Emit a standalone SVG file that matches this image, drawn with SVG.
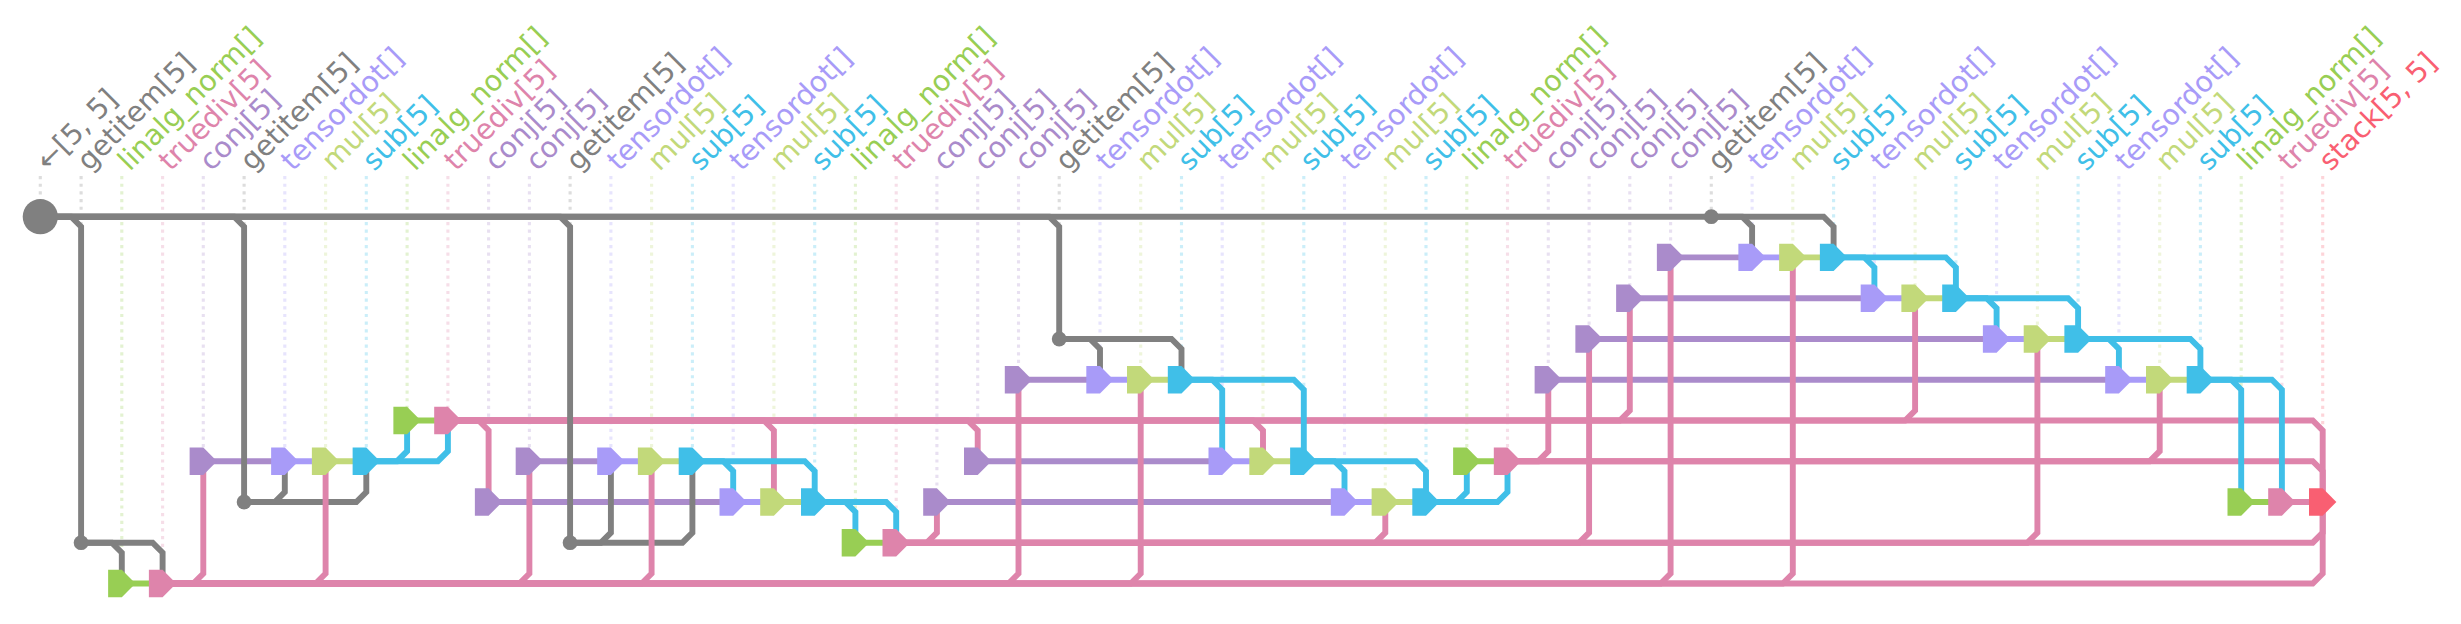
<svg xmlns="http://www.w3.org/2000/svg" width="2461" height="624" viewBox="0 0 2461 624">
<style>
text{font-family:"DejaVu Sans",sans-serif;font-size:28.5px}
.d{fill:none;stroke-width:3.1;stroke-dasharray:3.2 4.46;opacity:.27}
.w{fill:none;stroke-width:5.9}
.g{stroke:#808080}.lg{stroke:#98ce54}.pk{stroke:#de84ab}.cj{stroke:#aa8bcb}.td{stroke:#a89bf8}.ml{stroke:#c2d97a}.sb{stroke:#40bfe8}.st{stroke:#f95f72}
.Fg{fill:#808080}.Flg{fill:#98ce54}.Fpk{fill:#de84ab}.Fcj{fill:#aa8bcb}.Ftd{fill:#a89bf8}.Fml{fill:#c2d97a}.Fsb{fill:#40bfe8}.Fst{fill:#f95f72}
</style>
<defs><path id="n" d="M-13.7-13.7H0L13.7 0 0 13.7H-13.7Z"/></defs>
<g id="labels">
<text transform="translate(48 172) rotate(-45)" class="Fg">←[5, 5]</text>
<text transform="translate(89 172) rotate(-45)" class="Fg">getitem[5]</text>
<text transform="translate(129.8 172) rotate(-45)" class="Flg">linalg_norm[]</text>
<text transform="translate(170.5 172) rotate(-45)" class="Fpk">truediv[5]</text>
<text transform="translate(211.3 172) rotate(-45)" class="Fcj">conj[5]</text>
<text transform="translate(252.1 172) rotate(-45)" class="Fg">getitem[5]</text>
<text transform="translate(292.8 172) rotate(-45)" class="Ftd">tensordot[]</text>
<text transform="translate(333.6 172) rotate(-45)" class="Fml">mul[5]</text>
<text transform="translate(374.3 172) rotate(-45)" class="Fsb">sub[5]</text>
<text transform="translate(415.1 172) rotate(-45)" class="Flg">linalg_norm[]</text>
<text transform="translate(455.9 172) rotate(-45)" class="Fpk">truediv[5]</text>
<text transform="translate(496.6 172) rotate(-45)" class="Fcj">conj[5]</text>
<text transform="translate(537.4 172) rotate(-45)" class="Fcj">conj[5]</text>
<text transform="translate(578.1 172) rotate(-45)" class="Fg">getitem[5]</text>
<text transform="translate(618.9 172) rotate(-45)" class="Ftd">tensordot[]</text>
<text transform="translate(659.6 172) rotate(-45)" class="Fml">mul[5]</text>
<text transform="translate(700.4 172) rotate(-45)" class="Fsb">sub[5]</text>
<text transform="translate(741.2 172) rotate(-45)" class="Ftd">tensordot[]</text>
<text transform="translate(781.9 172) rotate(-45)" class="Fml">mul[5]</text>
<text transform="translate(822.7 172) rotate(-45)" class="Fsb">sub[5]</text>
<text transform="translate(863.4 172) rotate(-45)" class="Flg">linalg_norm[]</text>
<text transform="translate(904.2 172) rotate(-45)" class="Fpk">truediv[5]</text>
<text transform="translate(945 172) rotate(-45)" class="Fcj">conj[5]</text>
<text transform="translate(985.7 172) rotate(-45)" class="Fcj">conj[5]</text>
<text transform="translate(1026.5 172) rotate(-45)" class="Fcj">conj[5]</text>
<text transform="translate(1067.2 172) rotate(-45)" class="Fg">getitem[5]</text>
<text transform="translate(1108 172) rotate(-45)" class="Ftd">tensordot[]</text>
<text transform="translate(1148.8 172) rotate(-45)" class="Fml">mul[5]</text>
<text transform="translate(1189.5 172) rotate(-45)" class="Fsb">sub[5]</text>
<text transform="translate(1230.3 172) rotate(-45)" class="Ftd">tensordot[]</text>
<text transform="translate(1271 172) rotate(-45)" class="Fml">mul[5]</text>
<text transform="translate(1311.8 172) rotate(-45)" class="Fsb">sub[5]</text>
<text transform="translate(1352.5 172) rotate(-45)" class="Ftd">tensordot[]</text>
<text transform="translate(1393.3 172) rotate(-45)" class="Fml">mul[5]</text>
<text transform="translate(1434.1 172) rotate(-45)" class="Fsb">sub[5]</text>
<text transform="translate(1474.8 172) rotate(-45)" class="Flg">linalg_norm[]</text>
<text transform="translate(1515.6 172) rotate(-45)" class="Fpk">truediv[5]</text>
<text transform="translate(1556.3 172) rotate(-45)" class="Fcj">conj[5]</text>
<text transform="translate(1597.1 172) rotate(-45)" class="Fcj">conj[5]</text>
<text transform="translate(1637.9 172) rotate(-45)" class="Fcj">conj[5]</text>
<text transform="translate(1678.6 172) rotate(-45)" class="Fcj">conj[5]</text>
<text transform="translate(1719.4 172) rotate(-45)" class="Fg">getitem[5]</text>
<text transform="translate(1760.1 172) rotate(-45)" class="Ftd">tensordot[]</text>
<text transform="translate(1800.9 172) rotate(-45)" class="Fml">mul[5]</text>
<text transform="translate(1841.6 172) rotate(-45)" class="Fsb">sub[5]</text>
<text transform="translate(1882.4 172) rotate(-45)" class="Ftd">tensordot[]</text>
<text transform="translate(1923.2 172) rotate(-45)" class="Fml">mul[5]</text>
<text transform="translate(1963.9 172) rotate(-45)" class="Fsb">sub[5]</text>
<text transform="translate(2004.7 172) rotate(-45)" class="Ftd">tensordot[]</text>
<text transform="translate(2045.4 172) rotate(-45)" class="Fml">mul[5]</text>
<text transform="translate(2086.2 172) rotate(-45)" class="Fsb">sub[5]</text>
<text transform="translate(2127 172) rotate(-45)" class="Ftd">tensordot[]</text>
<text transform="translate(2167.7 172) rotate(-45)" class="Fml">mul[5]</text>
<text transform="translate(2208.5 172) rotate(-45)" class="Fsb">sub[5]</text>
<text transform="translate(2249.2 172) rotate(-45)" class="Flg">linalg_norm[]</text>
<text transform="translate(2290 172) rotate(-45)" class="Fpk">truediv[5]</text>
<text transform="translate(2330.8 172) rotate(-45)" class="Fst">stack[5, 5]</text>
</g>
<g id="guides">
<path class="d g" d="M40.3 176V216.7"/><path class="d g" d="M81.1 176V542.7"/><path class="d lg" d="M121.8 176V583.5"/><path class="d pk" d="M162.6 176V583.5"/><path class="d cj" d="M203.3 176V461.2"/><path class="d g" d="M244.1 176V502"/><path class="d td" d="M284.8 176V461.2"/><path class="d ml" d="M325.6 176V461.2"/><path class="d sb" d="M366.3 176V461.2"/><path class="d lg" d="M407.1 176V420.5"/><path class="d pk" d="M447.9 176V420.5"/><path class="d cj" d="M488.6 176V502"/><path class="d cj" d="M529.4 176V461.2"/><path class="d g" d="M570.1 176V542.7"/><path class="d td" d="M610.9 176V461.2"/><path class="d ml" d="M651.6 176V461.2"/><path class="d sb" d="M692.4 176V461.2"/><path class="d td" d="M733.2 176V502"/><path class="d ml" d="M773.9 176V502"/><path class="d sb" d="M814.7 176V502"/><path class="d lg" d="M855.4 176V542.7"/><path class="d pk" d="M896.2 176V542.7"/><path class="d cj" d="M936.9 176V502"/><path class="d cj" d="M977.7 176V461.2"/><path class="d cj" d="M1018.5 176V379.7"/><path class="d g" d="M1059.2 176V339"/><path class="d td" d="M1100 176V379.7"/><path class="d ml" d="M1140.7 176V379.7"/><path class="d sb" d="M1181.5 176V379.7"/><path class="d td" d="M1222.2 176V461.2"/><path class="d ml" d="M1263 176V461.2"/><path class="d sb" d="M1303.8 176V461.2"/><path class="d td" d="M1344.5 176V502"/><path class="d ml" d="M1385.3 176V502"/><path class="d sb" d="M1426 176V502"/><path class="d lg" d="M1466.8 176V461.2"/><path class="d pk" d="M1507.5 176V461.2"/><path class="d cj" d="M1548.3 176V379.7"/><path class="d cj" d="M1589.1 176V339"/><path class="d cj" d="M1629.8 176V298.2"/><path class="d cj" d="M1670.6 176V257.4"/><path class="d g" d="M1711.3 176V216.7"/><path class="d td" d="M1752.1 176V257.4"/><path class="d ml" d="M1792.8 176V257.4"/><path class="d sb" d="M1833.6 176V257.4"/><path class="d td" d="M1874.4 176V298.2"/><path class="d ml" d="M1915.1 176V298.2"/><path class="d sb" d="M1955.9 176V298.2"/><path class="d td" d="M1996.6 176V339"/><path class="d ml" d="M2037.4 176V339"/><path class="d sb" d="M2078.1 176V339"/><path class="d td" d="M2118.9 176V379.7"/><path class="d ml" d="M2159.7 176V379.7"/><path class="d sb" d="M2200.4 176V379.7"/><path class="d lg" d="M2241.2 176V502"/><path class="d pk" d="M2281.9 176V502"/><path class="d st" d="M2322.7 176V502"/>
</g>
<g id="connectors">
<path class="w cj" d="M203.3 461.2H284.8"/>
<path class="w cj" d="M529.4 461.2H610.9"/>
<path class="w cj" d="M488.6 502H733.2"/>
<path class="w cj" d="M1018.5 379.7H1100"/>
<path class="w cj" d="M977.7 461.2H1222.2"/>
<path class="w cj" d="M936.9 502H1344.5"/>
<path class="w cj" d="M1670.6 257.4H1752.1"/>
<path class="w cj" d="M1629.8 298.2H1874.4"/>
<path class="w cj" d="M1589.1 339H1996.6"/>
<path class="w cj" d="M1548.3 379.7H2118.9"/>
<path class="w g" d="M81.1 542.7H111.8L121.8 552.7V583.5"/>
<path class="w g" d="M81.1 542.7H152.6L162.6 552.7V583.5"/>
<path class="w g" d="M244.1 502H274.8L284.8 492V461.2"/>
<path class="w g" d="M244.1 502H356.3L366.3 492V461.2"/>
<path class="w g" d="M570.1 542.7H600.9L610.9 532.7V461.2"/>
<path class="w g" d="M570.1 542.7H682.4L692.4 532.7V461.2"/>
<path class="w g" d="M1059.2 339H1090L1100 349V379.7"/>
<path class="w g" d="M1059.2 339H1171.5L1181.5 349V379.7"/>
<path class="w g" d="M1711.3 216.7H1742.1L1752.1 226.7V257.4"/>
<path class="w g" d="M1711.3 216.7H1823.6L1833.6 226.7V257.4"/>
<path class="w lg" d="M121.8 583.5H162.6"/>
<path class="w lg" d="M407.1 420.5H447.9"/>
<path class="w lg" d="M855.4 542.7H896.2"/>
<path class="w lg" d="M1466.8 461.2H1507.5"/>
<path class="w lg" d="M2241.2 502H2281.9"/>
<path class="w td" d="M284.8 461.2H325.6"/>
<path class="w td" d="M610.9 461.2H651.6"/>
<path class="w td" d="M733.2 502H773.9"/>
<path class="w td" d="M1100 379.7H1140.7"/>
<path class="w td" d="M1222.2 461.2H1263"/>
<path class="w td" d="M1344.5 502H1385.3"/>
<path class="w td" d="M1752.1 257.4H1792.8"/>
<path class="w td" d="M1874.4 298.2H1915.1"/>
<path class="w td" d="M1996.6 339H2037.4"/>
<path class="w td" d="M2118.9 379.7H2159.7"/>
<path class="w ml" d="M325.6 461.2H366.3"/>
<path class="w ml" d="M651.6 461.2H692.4"/>
<path class="w ml" d="M773.9 502H814.7"/>
<path class="w ml" d="M1140.7 379.7H1181.5"/>
<path class="w ml" d="M1263 461.2H1303.8"/>
<path class="w ml" d="M1385.3 502H1426"/>
<path class="w ml" d="M1792.8 257.4H1833.6"/>
<path class="w ml" d="M1915.1 298.2H1955.9"/>
<path class="w ml" d="M2037.4 339H2078.1"/>
<path class="w ml" d="M2159.7 379.7H2200.4"/>
<path class="w pk" d="M162.6 583.5H193.3L203.3 573.5V461.2"/>
<path class="w pk" d="M162.6 583.5H315.6L325.6 573.5V461.2"/>
<path class="w pk" d="M447.9 420.5H478.6L488.6 430.5V502"/>
<path class="w pk" d="M162.6 583.5H519.4L529.4 573.5V461.2"/>
<path class="w pk" d="M162.6 583.5H641.6L651.6 573.5V461.2"/>
<path class="w pk" d="M447.9 420.5H763.9L773.9 430.5V502"/>
<path class="w pk" d="M896.2 542.7H926.9L936.9 532.7V502"/>
<path class="w pk" d="M447.9 420.5H967.7L977.7 430.5V461.2"/>
<path class="w pk" d="M162.6 583.5H1008.5L1018.5 573.5V379.7"/>
<path class="w pk" d="M162.6 583.5H1130.7L1140.7 573.5V379.7"/>
<path class="w pk" d="M447.9 420.5H1253L1263 430.5V461.2"/>
<path class="w pk" d="M896.2 542.7H1375.3L1385.3 532.7V502"/>
<path class="w pk" d="M1507.5 461.2H1538.3L1548.3 451.2V379.7"/>
<path class="w pk" d="M896.2 542.7H1579.1L1589.1 532.7V339"/>
<path class="w pk" d="M447.9 420.5H1619.8L1629.8 410.5V298.2"/>
<path class="w pk" d="M162.6 583.5H1660.6L1670.6 573.5V257.4"/>
<path class="w pk" d="M162.6 583.5H1782.8L1792.8 573.5V257.4"/>
<path class="w pk" d="M447.9 420.5H1905.1L1915.1 410.5V298.2"/>
<path class="w pk" d="M896.2 542.7H2027.4L2037.4 532.7V339"/>
<path class="w pk" d="M1507.5 461.2H2149.7L2159.7 451.2V379.7"/>
<path class="w pk" d="M2281.9 502H2322.7"/>
<path class="w pk" d="M447.9 420.5H2312.7L2322.7 430.5V502"/>
<path class="w pk" d="M1507.5 461.2H2312.7L2322.7 471.2V502"/>
<path class="w pk" d="M896.2 542.7H2312.7L2322.7 532.7V502"/>
<path class="w pk" d="M162.6 583.5H2312.7L2322.7 573.5V502"/>
<path class="w g" d="M40.3 216.7H1711.3"/>
<path class="w g" d="M40.3 216.7H71.1L81.1 226.7V542.7"/>
<path class="w g" d="M40.3 216.7H234.1L244.1 226.7V502"/>
<path class="w g" d="M40.3 216.7H560.1L570.1 226.7V542.7"/>
<path class="w g" d="M40.3 216.7H1049.2L1059.2 226.7V339"/>
<path class="w sb" d="M366.3 461.2H397.1L407.1 451.2V420.5"/>
<path class="w sb" d="M366.3 461.2H437.9L447.9 451.2V420.5"/>
<path class="w sb" d="M692.4 461.2H723.2L733.2 471.2V502"/>
<path class="w sb" d="M692.4 461.2H804.7L814.7 471.2V502"/>
<path class="w sb" d="M814.7 502H845.4L855.4 512V542.7"/>
<path class="w sb" d="M814.7 502H886.2L896.2 512V542.7"/>
<path class="w sb" d="M1181.5 379.7H1212.2L1222.2 389.7V461.2"/>
<path class="w sb" d="M1181.5 379.7H1293.8L1303.8 389.7V461.2"/>
<path class="w sb" d="M1303.8 461.2H1334.5L1344.5 471.2V502"/>
<path class="w sb" d="M1303.8 461.2H1416L1426 471.2V502"/>
<path class="w sb" d="M1426 502H1456.8L1466.8 492V461.2"/>
<path class="w sb" d="M1426 502H1497.5L1507.5 492V461.2"/>
<path class="w sb" d="M1833.6 257.4H1864.4L1874.4 267.4V298.2"/>
<path class="w sb" d="M1833.6 257.4H1945.9L1955.9 267.4V298.2"/>
<path class="w sb" d="M1955.9 298.2H1986.6L1996.6 308.2V339"/>
<path class="w sb" d="M1955.9 298.2H2068.1L2078.1 308.2V339"/>
<path class="w sb" d="M2078.1 339H2108.9L2118.9 349V379.7"/>
<path class="w sb" d="M2078.1 339H2190.4L2200.4 349V379.7"/>
<path class="w sb" d="M2200.4 379.7H2231.2L2241.2 389.7V502"/>
<path class="w sb" d="M2200.4 379.7H2271.9L2281.9 389.7V502"/>
</g>
<g id="nodes">
<circle id="n0" cx="40.3" cy="216.7" r="17.6" class="Fg"/>
<circle id="n1" cx="81.1" cy="542.7" r="7.4" class="Fg"/>
<use id="n2" href="#n" x="121.8" y="583.5" class="Flg"/>
<use id="n3" href="#n" x="162.6" y="583.5" class="Fpk"/>
<use id="n4" href="#n" x="203.3" y="461.2" class="Fcj"/>
<circle id="n5" cx="244.1" cy="502" r="7.4" class="Fg"/>
<use id="n6" href="#n" x="284.8" y="461.2" class="Ftd"/>
<use id="n7" href="#n" x="325.6" y="461.2" class="Fml"/>
<use id="n8" href="#n" x="366.3" y="461.2" class="Fsb"/>
<use id="n9" href="#n" x="407.1" y="420.5" class="Flg"/>
<use id="n10" href="#n" x="447.9" y="420.5" class="Fpk"/>
<use id="n11" href="#n" x="488.6" y="502" class="Fcj"/>
<use id="n12" href="#n" x="529.4" y="461.2" class="Fcj"/>
<circle id="n13" cx="570.1" cy="542.7" r="7.4" class="Fg"/>
<use id="n14" href="#n" x="610.9" y="461.2" class="Ftd"/>
<use id="n15" href="#n" x="651.6" y="461.2" class="Fml"/>
<use id="n16" href="#n" x="692.4" y="461.2" class="Fsb"/>
<use id="n17" href="#n" x="733.2" y="502" class="Ftd"/>
<use id="n18" href="#n" x="773.9" y="502" class="Fml"/>
<use id="n19" href="#n" x="814.7" y="502" class="Fsb"/>
<use id="n20" href="#n" x="855.4" y="542.7" class="Flg"/>
<use id="n21" href="#n" x="896.2" y="542.7" class="Fpk"/>
<use id="n22" href="#n" x="936.9" y="502" class="Fcj"/>
<use id="n23" href="#n" x="977.7" y="461.2" class="Fcj"/>
<use id="n24" href="#n" x="1018.5" y="379.7" class="Fcj"/>
<circle id="n25" cx="1059.2" cy="339" r="7.4" class="Fg"/>
<use id="n26" href="#n" x="1100" y="379.7" class="Ftd"/>
<use id="n27" href="#n" x="1140.7" y="379.7" class="Fml"/>
<use id="n28" href="#n" x="1181.5" y="379.7" class="Fsb"/>
<use id="n29" href="#n" x="1222.2" y="461.2" class="Ftd"/>
<use id="n30" href="#n" x="1263" y="461.2" class="Fml"/>
<use id="n31" href="#n" x="1303.8" y="461.2" class="Fsb"/>
<use id="n32" href="#n" x="1344.5" y="502" class="Ftd"/>
<use id="n33" href="#n" x="1385.3" y="502" class="Fml"/>
<use id="n34" href="#n" x="1426" y="502" class="Fsb"/>
<use id="n35" href="#n" x="1466.8" y="461.2" class="Flg"/>
<use id="n36" href="#n" x="1507.5" y="461.2" class="Fpk"/>
<use id="n37" href="#n" x="1548.3" y="379.7" class="Fcj"/>
<use id="n38" href="#n" x="1589.1" y="339" class="Fcj"/>
<use id="n39" href="#n" x="1629.8" y="298.2" class="Fcj"/>
<use id="n40" href="#n" x="1670.6" y="257.4" class="Fcj"/>
<circle id="n41" cx="1711.3" cy="216.7" r="7.4" class="Fg"/>
<use id="n42" href="#n" x="1752.1" y="257.4" class="Ftd"/>
<use id="n43" href="#n" x="1792.8" y="257.4" class="Fml"/>
<use id="n44" href="#n" x="1833.6" y="257.4" class="Fsb"/>
<use id="n45" href="#n" x="1874.4" y="298.2" class="Ftd"/>
<use id="n46" href="#n" x="1915.1" y="298.2" class="Fml"/>
<use id="n47" href="#n" x="1955.9" y="298.2" class="Fsb"/>
<use id="n48" href="#n" x="1996.6" y="339" class="Ftd"/>
<use id="n49" href="#n" x="2037.4" y="339" class="Fml"/>
<use id="n50" href="#n" x="2078.1" y="339" class="Fsb"/>
<use id="n51" href="#n" x="2118.9" y="379.7" class="Ftd"/>
<use id="n52" href="#n" x="2159.7" y="379.7" class="Fml"/>
<use id="n53" href="#n" x="2200.4" y="379.7" class="Fsb"/>
<use id="n54" href="#n" x="2241.2" y="502" class="Flg"/>
<use id="n55" href="#n" x="2281.9" y="502" class="Fpk"/>
<use id="n56" href="#n" x="2322.7" y="502" class="Fst"/>
</g>
</svg>
